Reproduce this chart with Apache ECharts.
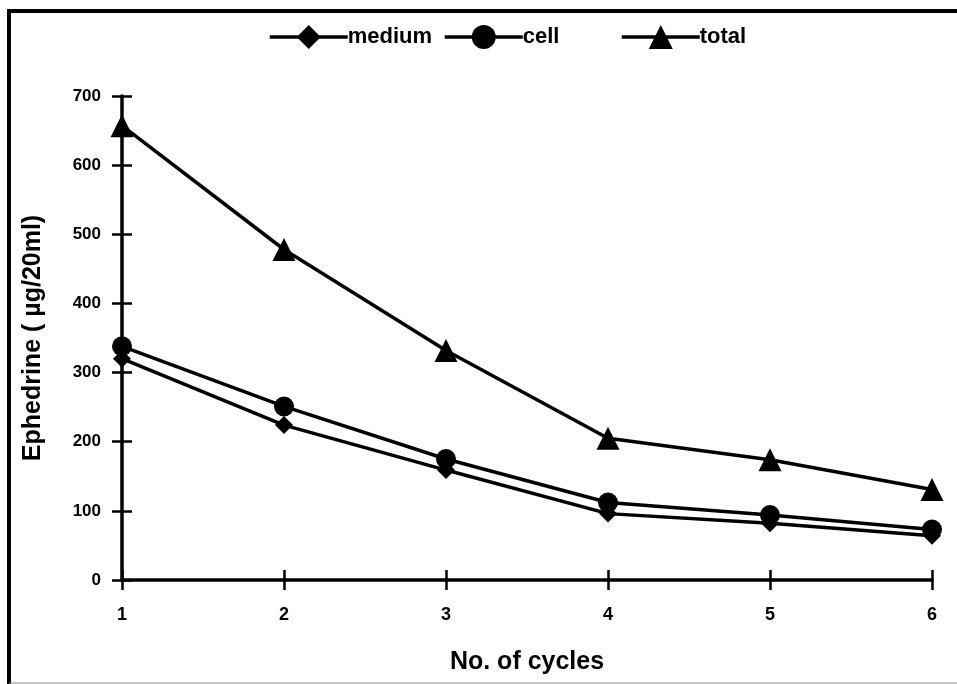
<!DOCTYPE html>
<html>
<head>
<meta charset="utf-8">
<script src="https://cdn.jsdelivr.net/npm/echarts@6/dist/echarts.min.js"></script>
<style>
  html, body { margin: 0; padding: 0; background: #fff; }
  #chart { width: 957px; height: 684px; }
</style>
</head>
<body>
<div id="chart"></div>
<script>
// Ephedrine content per culture cycle (µg/20ml)
const cycles = [1, 2, 3, 4, 5, 6];
const medium = [320, 224, 159, 96, 82, 64];
const cell = [338, 251, 175, 112, 94, 73];
const total = [657, 478, 332, 205, 174, 131];
const yTicks = [0, 100, 200, 300, 400, 500, 600, 700];

const FONT = '"Liberation Sans", Arial, sans-serif';

function pairs(values) {
  return cycles.map((c, i) => [c, values[i]]);
}

function lineSeries(name, values, symbol, size) {
  return {
    name: name,
    type: 'line',
    data: pairs(values),
    symbol: symbol,
    symbolSize: size,
    showAllSymbol: true,
    lineStyle: { color: '#000', width: 3.5 },
    itemStyle: { color: '#000', borderColor: '#000', borderWidth: 0 },
    emphasis: { disabled: true },
    animation: false,
    z: 5
  };
}

function legendFor(name, left) {
  return {
    data: [name],
    left: left,
    top: 25,
    itemWidth: 78,
    itemHeight: 30,
    itemGap: 0,
    padding: 0,
    selectedMode: false,
    lineStyle: { width: 3.5 },
    textStyle: { fontFamily: FONT, fontWeight: 'bold', fontSize: 22, color: '#000', padding: [0, 0, 0, -5] }
  };
}

const axisLineStyle = { show: true, lineStyle: { color: '#000', width: 3.5 } };
const tickStyle = { color: '#000', width: 2.5 };

const chart = echarts.init(document.getElementById('chart'), null, { renderer: 'canvas' });
chart.setOption({
  backgroundColor: '#fff',
  animation: false,
  grid: { left: 122, right: 25, top: 96, bottom: 104, containLabel: false },
  legend: [
    legendFor('medium', 268),
    legendFor('cell', 443),
    legendFor('total', 620)
  ],
  xAxis: [
    {
      type: 'value', min: 1, max: 6, interval: 1,
      axisLine: axisLineStyle,
      axisTick: { show: true, length: 10, lineStyle: tickStyle },
      splitLine: { show: false },
      axisLabel: { margin: 26, fontFamily: FONT, fontWeight: 'bold', fontSize: 18, color: '#000' },
      name: 'No. of cycles', nameLocation: 'middle', nameGap: 70,
      nameTextStyle: { fontFamily: FONT, fontWeight: 'bold', fontSize: 25, color: '#000' }
    },
    {
      type: 'value', min: 1, max: 6, interval: 1, position: 'bottom',
      axisLine: { show: false },
      axisTick: { show: true, inside: true, length: 10, lineStyle: tickStyle },
      splitLine: { show: false },
      axisLabel: { show: false }
    }
  ],
  yAxis: [
    {
      type: 'value', min: yTicks[0], max: yTicks[yTicks.length - 1], interval: 100,
      axisLine: axisLineStyle,
      axisTick: { show: true, length: 10, lineStyle: tickStyle },
      splitLine: { show: false },
      axisLabel: { margin: 21, fontFamily: FONT, fontWeight: 'bold', fontSize: 17, color: '#000' },
      name: 'Ephedrine ( µg/20ml)', nameLocation: 'middle', nameGap: 76,
      nameTextStyle: { fontFamily: FONT, fontWeight: 'bold', fontSize: 25, color: '#000' }
    },
    {
      type: 'value', min: yTicks[0], max: yTicks[yTicks.length - 1], interval: 100, position: 'left',
      axisLine: { show: false },
      axisTick: { show: true, inside: true, length: 10, lineStyle: tickStyle },
      splitLine: { show: false },
      axisLabel: { show: false }
    }
  ],
  series: [
    lineSeries('medium', medium, 'diamond', 18),
    lineSeries('cell', cell, 'circle', 20),
    lineSeries('total', total, 'triangle', 23)
  ],
  graphic: [
    // outer frame: heavy left and top edges, faint bottom edge
    { type: 'line', shape: { x1: 9, y1: 9, x2: 9, y2: 684 }, style: { stroke: '#000', lineWidth: 4 } },
    { type: 'line', shape: { x1: 7, y1: 11, x2: 957, y2: 11 }, style: { stroke: '#000', lineWidth: 4 } },
    { type: 'line', shape: { x1: 9, y1: 683, x2: 957, y2: 683 }, style: { stroke: '#888', lineWidth: 1 } }
  ]
});
</script>
</body>
</html>
